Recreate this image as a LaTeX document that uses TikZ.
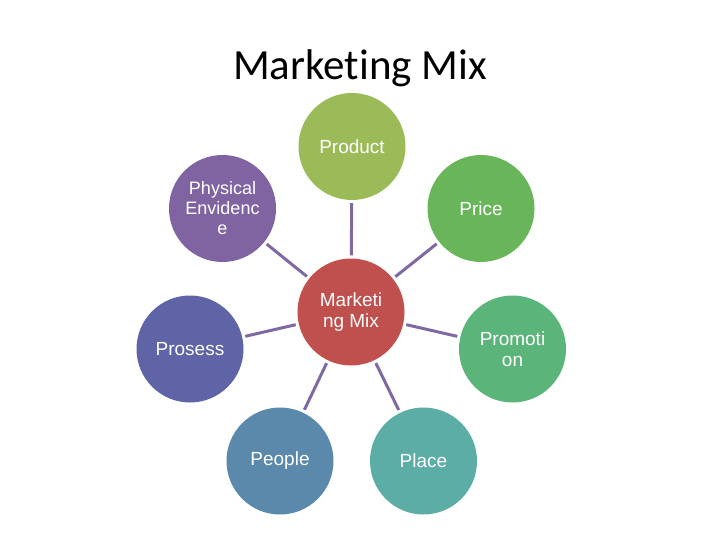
\documentclass[tikz,border=0pt]{standalone}
\usepackage{fontspec}
\setmainfont{Liberation Sans}
\newfontfamily\titlefont[Ligatures=NoCommon]{Carlito}
\definecolor{cProduct}{HTML}{9BBB59}
\definecolor{cPrice}{HTML}{68B55A}
\definecolor{cPromo}{HTML}{5BB47A}
\definecolor{cPlace}{HTML}{5BADA6}
\definecolor{cPeople}{HTML}{5A89AB}
\definecolor{cProsess}{HTML}{5F64A6}
\definecolor{cPhys}{HTML}{8064A2}
\definecolor{cCenter}{HTML}{C0504D}
\definecolor{cLine}{HTML}{7E69A3}
\begin{document}
\begin{tikzpicture}[x=1pt,y=-1pt,
  bub/.style={circle,minimum size=107pt,inner sep=0pt,text=white,align=center,
    font=\fontsize{19}{21}\selectfont},
  link/.style={draw=cLine,line width=3pt,shorten <=3pt,shorten >=3pt}]
\useasboundingbox (0,0) rectangle (720,540);
\node[font=\titlefont\fontsize{43}{46}\selectfont,anchor=base] (title) at (360,80) {Marketing Mix};
\node[bub,fill=cCenter] (c) at (351,312) {Marketi\\ng Mix};
\node[bub,fill=cProduct] (prod) at (352,146.5) {Product};
\node[bub,fill=cPrice] (price) at (481,208.5) {Price};
\node[bub,fill=cPromo] (promo) at (512.5,349) {Promoti\\on};
\node[bub,fill=cPlace] (place) at (423.5,461) {Place};
\node[bub,fill=cPeople] (people) at (280,461) {People};
\node[bub,fill=cProsess] (pros) at (190,349) {Prosess};
\node[bub,fill=cPhys,font=\fontsize{18}{20}\selectfont] (phys) at (222.5,208.5) {Physical\\Envidenc\\e};
\foreach \n in {prod,price,promo,place,people,pros,phys}
  \draw[link] (c) -- (\n);
\end{tikzpicture}
\end{document}
